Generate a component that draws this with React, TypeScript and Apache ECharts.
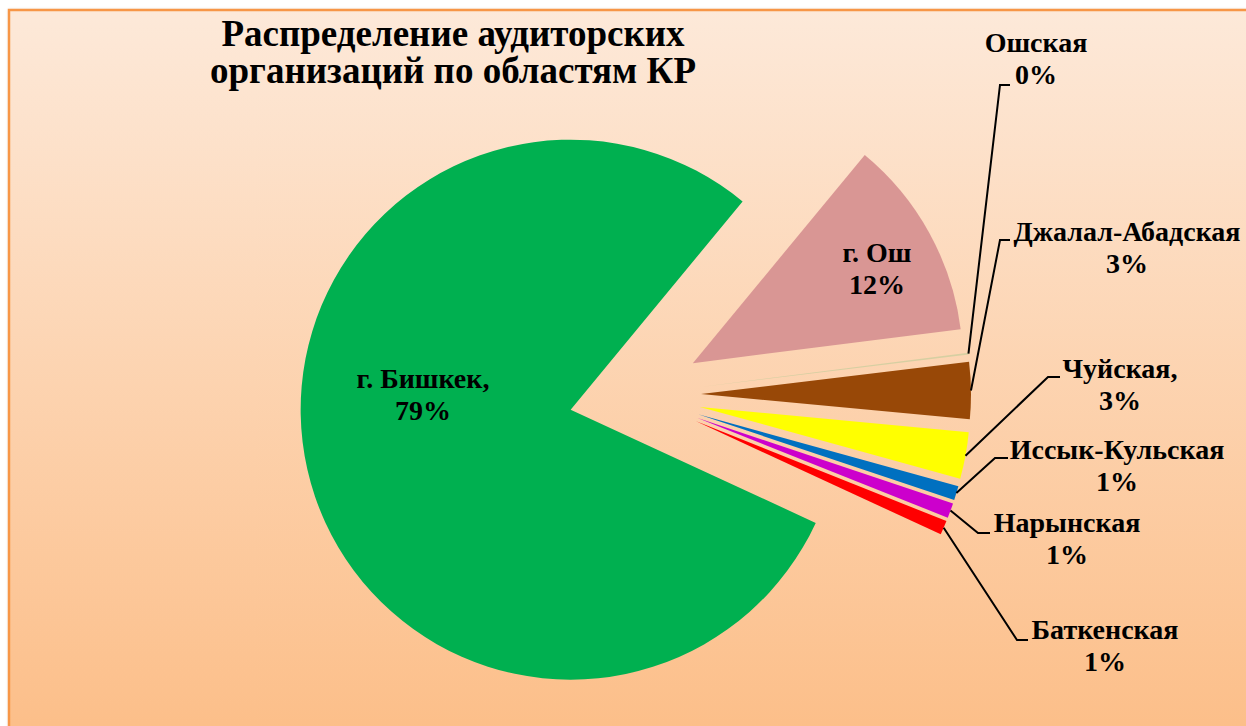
import React, { useEffect, useRef } from 'react';
import * as echarts from 'echarts';

const TITLE_LINES = ['Распределение аудиторских', 'организаций по областям КР'];
const categories = ['г. Бишкек', 'г. Ош', 'Ошская', 'Джалал-Абадская', 'Чуйская', 'Иссык-Кульская', 'Нарынская', 'Баткенская'];
const labelNames = ['г. Бишкек,', 'г. Ош', 'Ошская', 'Джалал-Абадская', 'Чуйская,', 'Иссык-Кульская', 'Нарынская', 'Баткенская'];
const values = [79.1, 12.0, 0.1, 3.4, 2.8, 0.85, 0.9, 0.85];
const colors = ['#00B050', '#D99694', '#D6CFA2', '#984807', '#FFFF00', '#0070C0', '#CC00CC', '#FF0000'];

// label placement (layout only)
const LABEL_LAYOUT: { x: number; y: number; line?: number[][] }[] = [
  { x: 423, y: 394 },
  { x: 877, y: 268 },
  { x: 1036, y: 58, line: [[1000, 85], [1010, 85]] },
  { x: 1127, y: 247, line: [[1000, 240], [1010, 240]] },
  { x: 1120, y: 384, line: [[1048, 377], [1060, 377]] },
  { x: 1117, y: 465, line: [[995, 458], [1008, 458]] },
  { x: 1067, y: 538, line: [[978, 533], [990, 533]] },
  { x: 1105, y: 645, line: [[1017, 640], [1028, 640]] },
];

const FONT = '"Liberation Serif", "Times New Roman", serif';
const CENTER = [635, 395];
const RADIUS = 270;
const EXPLODE = 66;
const START = 335.2;

export default function App() {
  const ref = useRef<HTMLDivElement>(null);
  useEffect(() => {
    if (!ref.current) return;
    const chart = echarts.init(ref.current, null, { renderer: 'svg' });
    const sliceData = categories.map((name, i) => ({
      name,
      value: values[i],
      selected: true,
      itemStyle: { color: colors[i] },
    }));
    const labelData = categories.map((name, i) => {
      const inside = i < 2;
      return {
        name,
        value: values[i],
        label: { position: inside ? 'inside' : 'outside' },
        labelLine: { show: !inside },
      };
    });
    chart.setOption({
      animation: false,
      backgroundColor: '#FFFFFF',
      title: {
        text: TITLE_LINES.join('\n'),
        left: 453,
        top: 15,
        padding: 0,
        textAlign: 'center',
        textStyle: { fontFamily: FONT, fontWeight: 'bold', fontSize: 37, lineHeight: 37, color: '#000' },
      },
      graphic: [
        {
          type: 'rect',
          z: -10,
          silent: true,
          shape: { x: 9, y: 10, width: 1300, height: 730 },
          style: {
            fill: new echarts.graphic.LinearGradient(0, 0, 0, 1, [
              { offset: 0, color: '#FDE9D9' },
              { offset: 1, color: '#FCBE88' },
            ]),
            stroke: '#F79646',
            lineWidth: 2.5,
            shadowBlur: 3,
            shadowColor: 'rgba(0,0,0,0.25)',
            shadowOffsetX: 1,
            shadowOffsetY: 1,
          },
        },
      ],
      series: [
        {
          type: 'pie',
          name: 'slices',
          center: CENTER,
          radius: RADIUS,
          startAngle: START,
          clockwise: true,
          selectedMode: 'multiple',
          selectedOffset: EXPLODE,
          avoidLabelOverlap: false,
          emphasis: { disabled: true },
          silent: true,
          itemStyle: { borderWidth: 0 },
          label: { show: false },
          labelLine: { show: false },
          data: sliceData,
        },
        {
          type: 'pie',
          name: 'labels',
          center: CENTER,
          radius: RADIUS + EXPLODE,
          startAngle: START,
          clockwise: true,
          avoidLabelOverlap: false,
          emphasis: { disabled: true },
          silent: true,
          z: 5,
          itemStyle: { color: 'rgba(0,0,0,0)', borderWidth: 0 },
          label: {
            show: true,
            fontFamily: FONT,
            fontWeight: 'bold',
            fontSize: 28,
            lineHeight: 32,
            color: '#000',
            align: 'center',
            formatter: (p: any) => `${labelNames[p.dataIndex]}\n${Math.round(p.percent)}%`,
          },
          labelLine: { show: true, lineStyle: { color: '#000', width: 2 }, length: 20, length2: 10 },
          labelLayout: (p: any) => {
            const a = LABEL_LAYOUT[p.dataIndex];
            const res: any = { x: a.x, y: a.y, align: 'center', verticalAlign: 'middle' };
            if (a.line && p.labelLinePoints && p.labelLinePoints.length) {
              const s = p.labelLinePoints[0];
              res.labelLinePoints = [[s[0], s[1]], a.line[0], a.line[1]];
            }
            return res;
          },
          data: labelData,
        },
      ],
    });
    return () => chart.dispose();
  }, []);
  return <div ref={ref} style={{ position: 'fixed', left: 0, top: 0, width: 1246, height: 726 }} />;
}
